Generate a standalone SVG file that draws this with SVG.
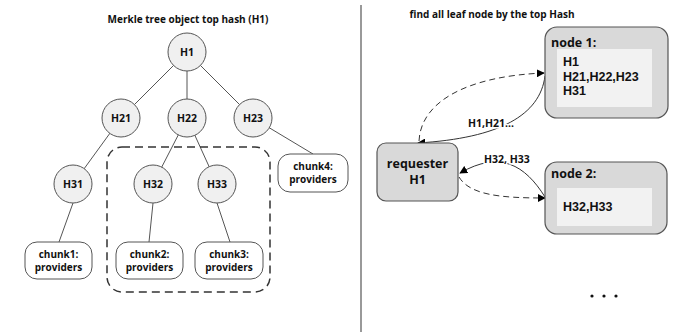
<svg xmlns="http://www.w3.org/2000/svg" width="682" height="333" viewBox="0 0 682 333">
<defs>
<marker id="arr" viewBox="0 0 10 10" refX="9" refY="5" markerWidth="8" markerHeight="8" markerUnits="userSpaceOnUse" orient="auto">
<path d="M0,0 L10,5 L0,10 z" fill="#000"/>
</marker>
<style>
text{font-family:"Open Sans","DejaVu Sans",sans-serif;font-weight:bold;fill:#111}
.c{fill:#f0f0f0;stroke:#555;stroke-width:1}
.ch{fill:#fff;stroke:#555;stroke-width:1}
.tl{stroke:#555;stroke-width:1;fill:none}
.nb{fill:#d9d9d9;stroke:#555;stroke-width:1.2}
.ib{fill:#f2f2f2;stroke:none}
.ct{font-size:10.5px;text-anchor:middle}
.kt{font-size:10px;text-anchor:middle}
.lbl{font-size:10.5px;paint-order:stroke;stroke:#fff;stroke-width:3px}
.cn{fill:none;stroke:#333;stroke-width:1}
.dash{stroke-dasharray:6,4}
.hl{font-family:"Liberation Sans",Arial,sans-serif;font-size:12.5px}
</style>
</defs>
<rect width="682" height="333" fill="#fff"/>
<line x1="361" y1="5" x2="361" y2="332" stroke="#999" stroke-width="2"/>
<text x="188" y="23" font-size="10" text-anchor="middle">Merkle tree object top hash (H1)</text>
<text x="492" y="18" font-size="10" text-anchor="middle">find all leaf node by the top Hash</text>

<g id="connectors">
<line class="tl" x1="187" y1="52" x2="121" y2="118"/>
<line class="tl" x1="187" y1="52" x2="187" y2="118"/>
<line class="tl" x1="187" y1="52" x2="253" y2="118"/>
<line class="tl" x1="121" y1="118" x2="73" y2="184"/>
<line class="tl" x1="187" y1="118" x2="153" y2="184"/>
<line class="tl" x1="187" y1="118" x2="217" y2="184"/>
<line class="tl" x1="253" y1="118" x2="313" y2="154"/>
<line class="tl" x1="73" y1="203" x2="59" y2="242"/>
<line class="tl" x1="153" y1="203" x2="149" y2="242"/>
<line class="tl" x1="217" y1="203" x2="230" y2="242"/>
<path class="cn dash" d="M419,141 C421,100 470,76 544,73" marker-end="url(#arr)"/>
<path class="cn" d="M545,76 C540,115 500,138 418,143" marker-end="url(#arr)"/>
<path class="cn" d="M545,197 C525,165 500,150 460,173" marker-end="url(#arr)"/>
<path class="cn dash" d="M459,177 C470,195 500,198 545,198" marker-end="url(#arr)"/>
<text class="lbl" x="468" y="127">H1,H21...</text>
<text class="lbl" x="484" y="163" font-size="11">H32, H33</text>
</g>

<rect id="group" x="107" y="147" width="163" height="145" rx="15" fill="none" stroke="#333" stroke-width="1.5" stroke-dasharray="8,5"/>

<g id="H1"><circle class="c" cx="187" cy="52" r="19"/><text class="ct" x="187" y="56">H1</text></g>
<g id="H21"><circle class="c" cx="121" cy="118" r="19"/><text class="ct" x="121" y="122">H21</text></g>
<g id="H22"><circle class="c" cx="187" cy="118" r="19"/><text class="ct" x="187" y="122">H22</text></g>
<g id="H23"><circle class="c" cx="253" cy="118" r="19"/><text class="ct" x="253" y="122">H23</text></g>
<g id="H31"><circle class="c" cx="73" cy="184" r="19"/><text class="ct" x="73" y="188">H31</text></g>
<g id="H32"><circle class="c" cx="153" cy="184" r="19"/><text class="ct" x="153" y="188">H32</text></g>
<g id="H33"><circle class="c" cx="217" cy="184" r="19"/><text class="ct" x="217" y="188">H33</text></g>

<g id="chunk1"><rect class="ch" x="25" y="242" width="67" height="37" rx="12"/><text class="kt" x="58.5" y="258">chunk1:</text><text class="kt" x="58.5" y="271">providers</text></g>
<g id="chunk2"><rect class="ch" x="116" y="242" width="67" height="37" rx="12"/><text class="kt" x="149.5" y="258">chunk2:</text><text class="kt" x="149.5" y="271">providers</text></g>
<g id="chunk3"><rect class="ch" x="195" y="242" width="68" height="37" rx="12"/><text class="kt" x="229" y="258">chunk3:</text><text class="kt" x="229" y="271">providers</text></g>
<g id="chunk4"><rect class="ch" x="278" y="154" width="70" height="38" rx="12"/><text class="kt" x="313" y="170">chunk4:</text><text class="kt" x="313" y="183">providers</text></g>

<g id="node1">
<rect class="nb" x="545" y="27" width="123" height="91" rx="12"/>
<text x="551" y="47" font-size="12.5">node 1:</text>
<rect class="ib" x="557" y="49" width="95" height="58"/>
<text class="hl" x="563" y="66">H1</text>
<text class="hl" x="563" y="80.5">H21,H22,H23</text>
<text class="hl" x="563" y="95">H31</text>
</g>
<g id="requester">
<rect class="nb" x="377" y="143" width="81" height="58" rx="9"/>
<text x="417.5" y="168" font-size="12.5" text-anchor="middle">requester</text>
<text x="417.5" y="184" font-size="12.5" text-anchor="middle">H1</text>
</g>
<g id="node2">
<rect class="nb" x="545" y="162" width="122" height="72" rx="12"/>
<text x="551" y="178" font-size="12.5">node 2:</text>
<rect class="ib" x="557" y="188" width="95" height="38"/>
<text class="hl" x="563" y="211">H32,H33</text>
</g>
<g id="dots" fill="#111">
<circle cx="592" cy="296" r="1.6"/><circle cx="604" cy="296" r="1.6"/><circle cx="616" cy="296" r="1.6"/>
</g>
</svg>
